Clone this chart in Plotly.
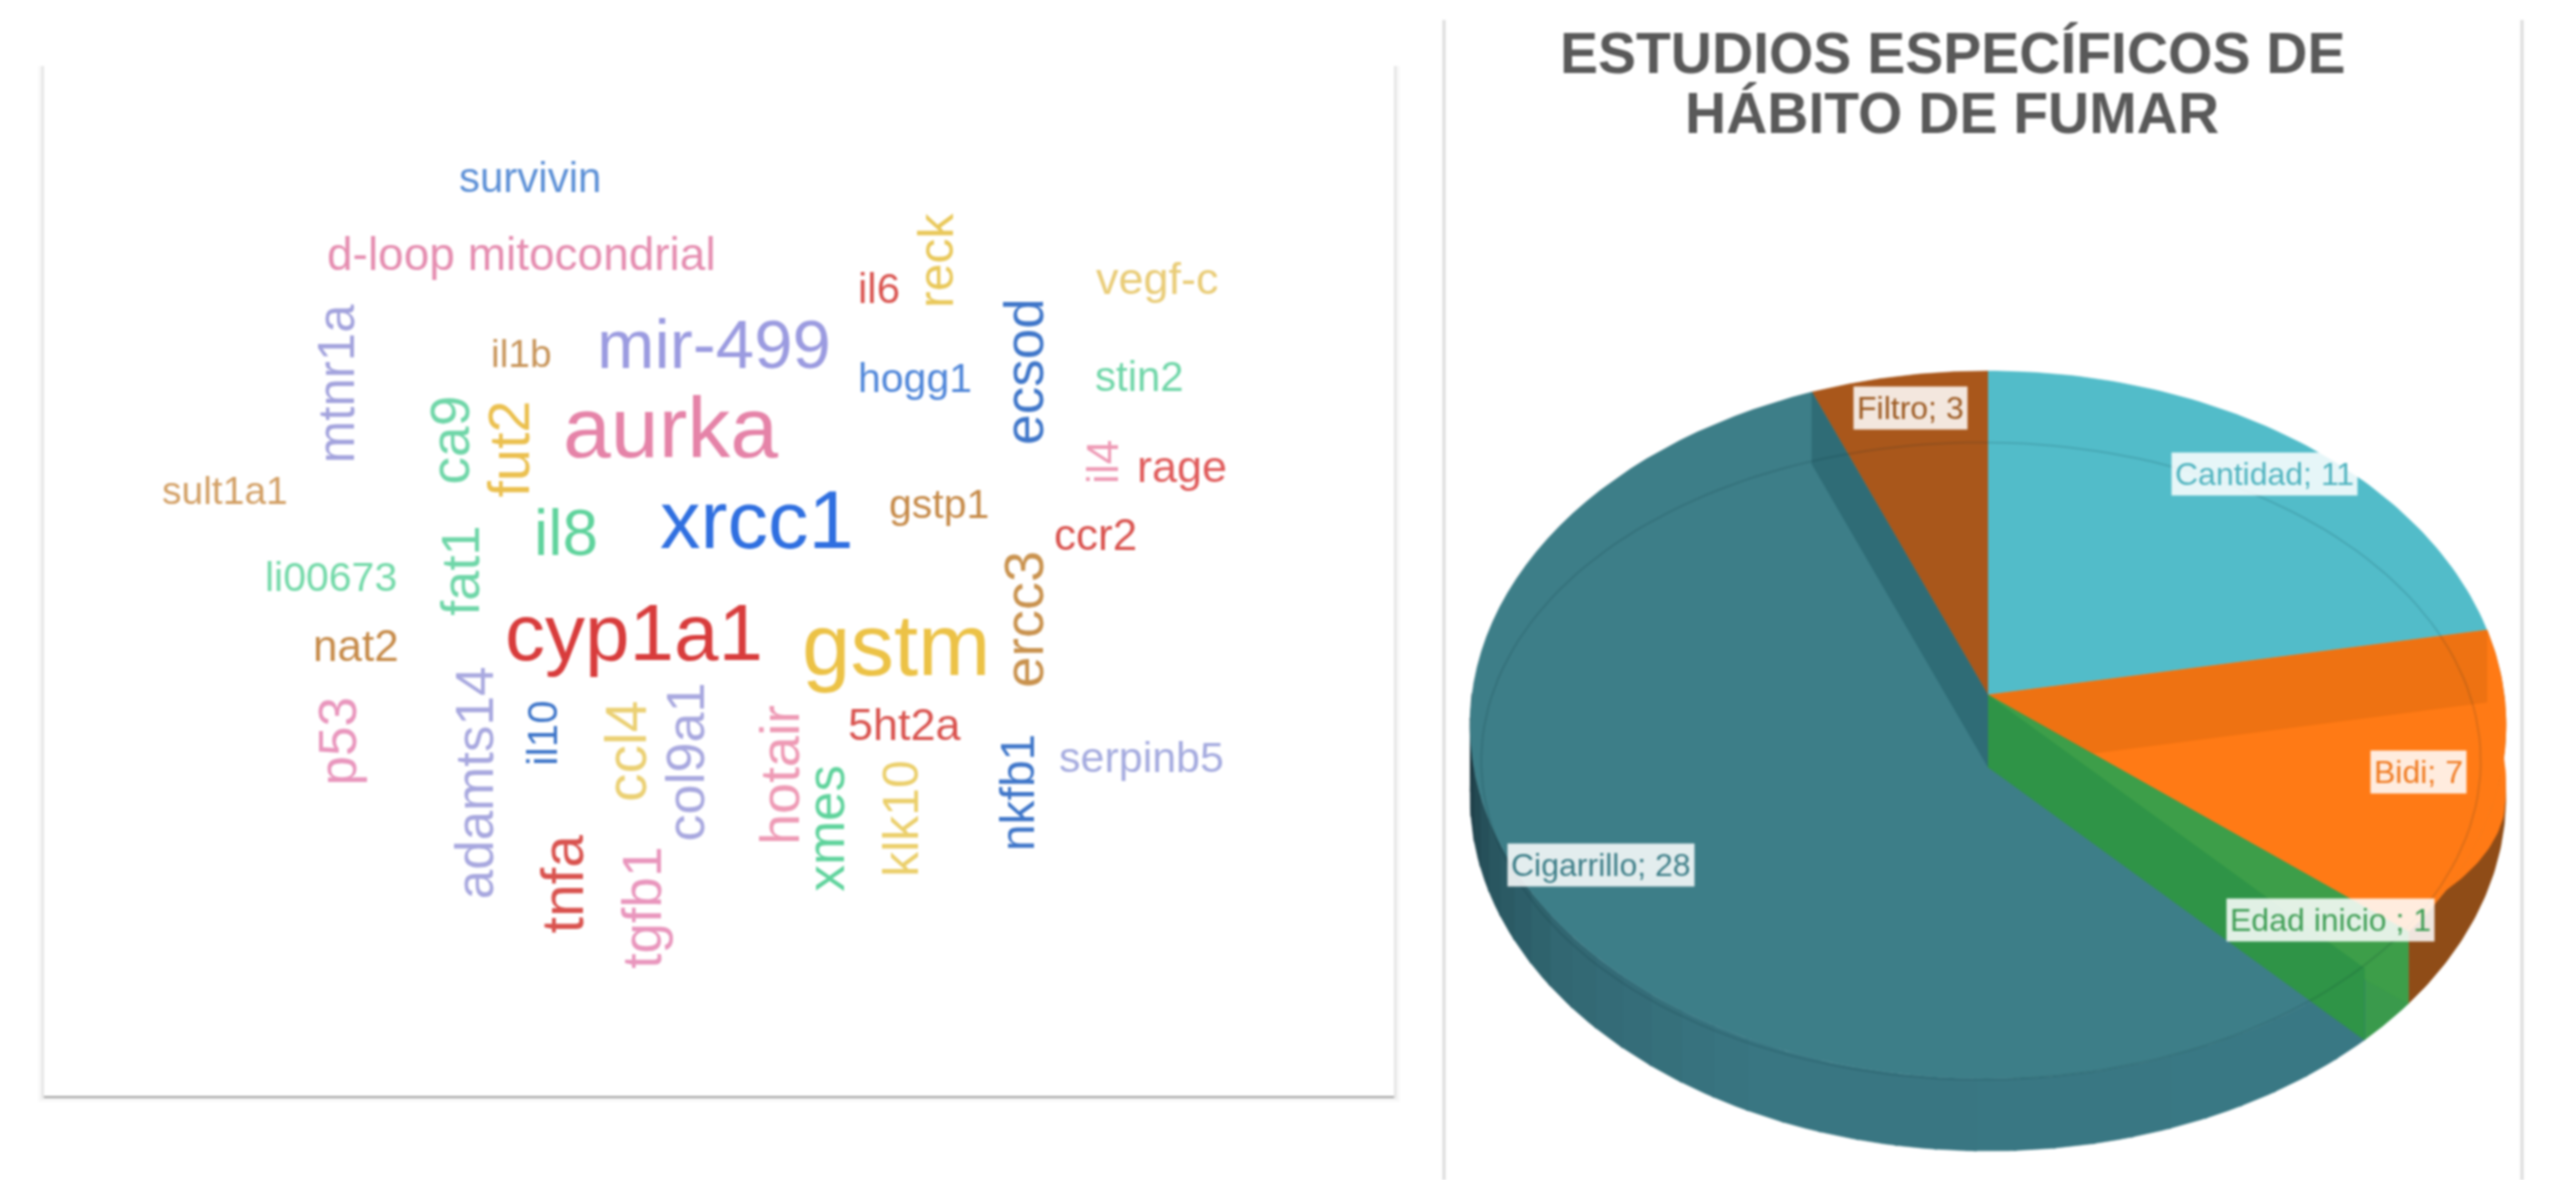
import numpy as np
import plotly.graph_objects as go

# ---- word cloud data ----
words = ["survivin","d-loop mitocondrial","reck","il6","vegf-c","mtnr1a","il1b","mir-499","hogg1","ecsod",
         "stin2","ca9","fut2","aurka","il4","rage","sult1a1","gstp1","il8","xrcc1",
         "ccr2","li00673","fat1","ercc3","nat2","cyp1a1","gstm","5ht2a","serpinb5","p53",
         "adamts14","il10","ccl4","col9a1","hotair","xmes","klk10","nkfb1","tnfa","tgfb1"]
word_size = [42,46,50,42,45,51,39,69,41,55,
             42,55,58,86,44,45,39,41,64,81,
             44,41,54,56,44,80,87,45,43,53,
             53,42,57,54,56,53,50,48,59,55]
word_x = [325,320,574,539,710,206,320,438,561,628,
          699,276,312,411,676,725,138,576,347,464,
          672,203,282,628,218,389,550,555,700,207,
          291,333,384,420,478,506,552,624,345,394]
word_y = [109,156,160,177,171,235,217,211,232,228,
          231,270,275,262,283,286,301,309,327,319,
          328,354,350,380,396,388,395,444,464,455,
          480,450,461,467,475,508,502,486,542,557]
vertical = {"reck","mtnr1a","ecsod","ca9","fut2","il4","fat1","ercc3","p53","adamts14",
            "il10","ccl4","col9a1","hotair","xmes","klk10","nkfb1","tnfa","tgfb1"}
word_color = ["#5b8fd6","#e58db0","#e9c85a","#d9534f","#e9cc77","#a3a3dd","#c8955a","#9b9be0","#4f86d9","#3f76c9",
              "#6fd6a8","#6fd6a8","#ebc04f","#e583a8","#ee9ab5","#e05c5c","#d29f64","#c68a48","#5fd39c","#2f6fe0",
              "#d9534f","#72d9a8","#6fd6a8","#c9924e","#c68a48","#d83c3c","#ecc246","#d9534f","#a5abdf","#e996bd",
              "#a8a8df","#3f76c9","#ebd073","#a8a8df","#ee9ab5","#5fd39c","#ebcf6b","#3f76c9","#d9534f","#e996bd"]
PREVIEW = 2557 / 1568

# ---- pie data ----
categories = ["Cantidad", "Bidi", "Edad inicio ", "Cigarrillo", "Filtro"]
values = [11, 7, 1, 28, 3]
face_colors = ["#52BCC9", "#FF7A15", "#3D9E49", "#3D7E88", "#A9571B"]
label_colors = ["#4fb3bf", "#f07a20", "#3f9e55", "#3d7e88", "#9c5a22"]
label_x = [2264, 2418, 2330, 1601, 1910]
label_y = [474, 772, 920, 865, 408]
title_lines = ["ESTUDIOS ESPECÍFICOS DE", "HÁBITO DE FUMAR"]

# pie geometry (tilted disc with perspective)
CX, CY, RY, K, C, OFF, DEPTH = 1988, 725, 354, 516, 0.0847, 30, 72

def project(theta_deg, drop=0):
    t = np.radians(theta_deg)
    X, Y = np.sin(t), np.cos(t)
    w = C * Y + 1
    return CX + K * X / w, CY - (RY * Y + OFF) / w + drop

apex = (CX, CY - OFF)
edges = np.concatenate([[0], np.cumsum(values)]) / sum(values) * 360

def arc(a, b, drop=0, n=80):
    return project(np.linspace(a, b, n), drop)

def poly(xs, ys, color):
    fig.add_trace(go.Scatter(x=list(xs), y=list(ys), mode="lines", fill="toself", fillcolor=color,
                             line=dict(color=color, width=0.5), hoverinfo="skip", showlegend=False))

def wedge(a, b, color):
    x, y = arc(a, b)
    poly(np.r_[apex[0], x], np.r_[apex[1], y], color)

def strip(a, b, color, drop=DEPTH):
    x1, y1 = arc(a, b)
    x2, y2 = arc(b, a, drop)
    poly(np.r_[x1, x2], np.r_[y1, y2], color)

def wall(a, color):
    x, y = project(a)
    poly([apex[0], x, x, apex[0]], [apex[1], y, y + DEPTH, apex[1] + DEPTH], color)

fig = go.Figure()

# side of the disc, front part: smooth shading towards the left edge
side_stops = np.array([edges[3] - 0.1, 205, 232, 250, 262, 270])
side_rgb = np.array([[58, 121, 133], [57, 118, 130], [50, 103, 114], [40, 84, 94], [30, 62, 71], [24, 48, 56]])
bands = np.linspace(side_stops[0], side_stops[-1], 34)
strip(edges[1], edges[2], "#8f4c17")
strip(edges[2], edges[3], "#3a9a4c")
for a, b in zip(bands[:-1], bands[1:]):
    rgb = [np.interp((a + b) / 2, side_stops, side_rgb[:, j]) for j in range(3)]
    strip(a, b + 0.3, "rgb(%d,%d,%d)" % tuple(rgb))

# top faces
for i, col in enumerate(face_colors):
    wedge(edges[i], edges[i + 1], col)

# orange face reaches over the upper part of its side wall
t = np.linspace(edges[1], 122, 50)
ox1, oy1 = project(t)
ox2, oy2 = project(t, np.interp(t, [edges[1], 100, 122], [DEPTH * 0.95, DEPTH * 0.8, 0]))
poly(np.r_[ox1, ox2[::-1]], np.r_[oy1, oy2[::-1]], face_colors[1])

# inner walls seen through the translucent faces
wall(edges[1], "#EE7212")
wall(edges[2], "#3D9E49")
wall(edges[3], "#2F9447")
wall(edges[4], "#2F6C76")
wedge(edges[2], edges[3], "#3D9E49")

# thin rim ellipse
rx, ry = arc(0, 360, DEPTH * 0.5, 200)
fig.add_trace(go.Scatter(x=1981 + (rx - CX) * 0.965, y=761 + (ry - (CY + 36)) * 0.9, mode="lines",
                         line=dict(color="rgba(0,40,50,0.13)", width=2), hoverinfo="skip", showlegend=False))

# annotations
ann = []
for w, s, x, y, col in zip(words, word_size, word_x, word_y, word_color):
    ann.append(dict(x=x * PREVIEW, y=y * PREVIEW, text=w, showarrow=False, xanchor="center", yanchor="middle",
                    textangle=-90 if w in vertical else 0, font=dict(size=s, color=col, family="Liberation Sans")))
for name, v, x, y, col in zip(categories, values, label_x, label_y, label_colors):
    ann.append(dict(x=x, y=y, text=f"{name}; {v}", showarrow=False, xanchor="center", yanchor="middle",
                    bgcolor="rgba(255,255,255,0.86)", borderpad=3,
                    font=dict(size=32, color=col, family="Liberation Sans")))
for txt, y in zip(title_lines, [53, 113]):
    ann.append(dict(x=1952, y=y, text=f"<b>{txt}</b>", showarrow=False, xanchor="center", yanchor="middle",
                    font=dict(size=57, color="#595959", family="Liberation Sans")))

# cards
shapes = []
for pad, alpha in [(6, 0.02), (4, 0.03), (2, 0.05)]:
    shapes.append(dict(type="rect", x0=44 - pad, x1=1394 + pad, y0=66, y1=1096 + pad,
                       fillcolor=f"rgba(0,0,0,{alpha})", line_width=0, layer="below"))
shapes.append(dict(type="rect", x0=44, x1=1394, y0=65, y1=1096, fillcolor="white", line_width=0, layer="below"))
shapes.append(dict(type="line", x0=44, x1=1394, y0=1097, y1=1097, line=dict(color="rgba(0,0,0,0.28)", width=2), layer="below"))
for x in [1444, 2522]:
    shapes.append(dict(type="line", x0=x, x1=x, y0=20, y1=1180, line=dict(color="#dcdcdc", width=3), layer="below"))

fig.update_layout(
    width=2557, height=1180, margin=dict(l=0, r=0, t=0, b=0), plot_bgcolor="white", paper_bgcolor="white",
    xaxis=dict(range=[0, 2557], visible=False, fixedrange=True),
    yaxis=dict(range=[1180, 0], visible=False, fixedrange=True),
    showlegend=False, annotations=ann, shapes=shapes,
)
fig.write_html("out.html", config={"displayModeBar": False},
               post_script="document.body.style.margin='0';document.body.style.overflow='hidden';"
                           "document.querySelector('.svg-container').style.filter='blur(1.1px)';")
